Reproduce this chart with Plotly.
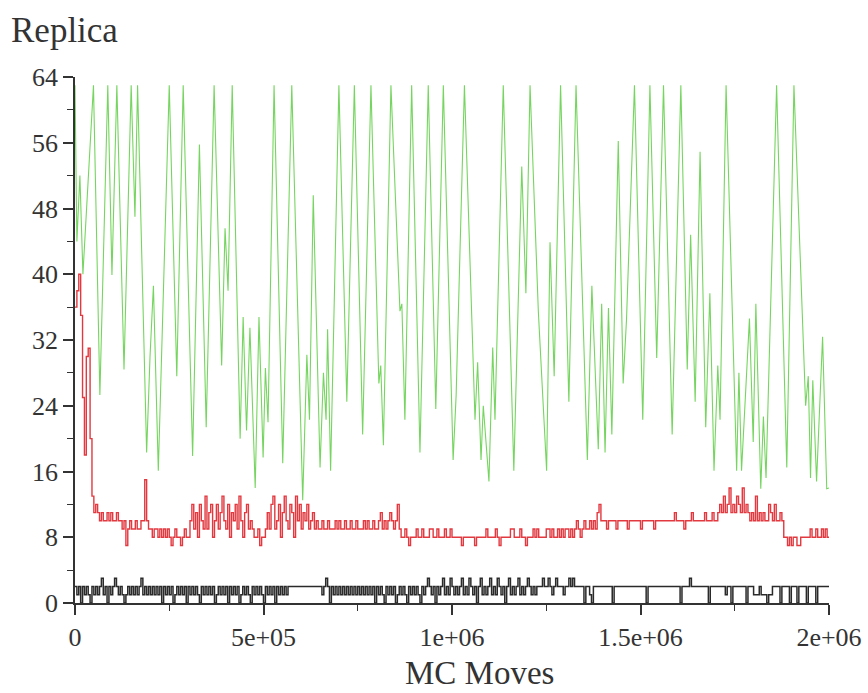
import plotly.graph_objects as go

# ---------------- data ----------------
# green replica walk: turning points, x in thousands of MC moves
green_x_k = [0, 5, 13, 21, 49, 66, 87, 98, 111, 130, 149, 159, 166, 190, 199, 208, 221,
             250, 270, 287, 312, 330, 348, 369, 389, 398, 406, 417, 438, 446, 455, 464,
             478, 488, 499, 505, 512, 528, 551, 575, 604, 615, 622, 632, 650, 659, 666,
             670, 678, 700, 721, 741, 763, 785, 806, 811, 818, 838, 862, 867, 875, 893,
             915, 937, 957, 977, 1003, 1011, 1033, 1061, 1068, 1077, 1083, 1098, 1108,
             1114, 1136, 1164, 1185, 1196, 1207, 1229, 1251, 1260, 1271, 1288, 1310,
             1329, 1359, 1371, 1388, 1397, 1406, 1415, 1424, 1441, 1454, 1463, 1484,
             1506, 1525, 1543, 1561, 1584, 1607, 1624, 1633, 1645, 1658, 1673, 1684,
             1695, 1705, 1711, 1727, 1755, 1761, 1768, 1789, 1799, 1806, 1819, 1826,
             1833, 1861, 1888, 1907, 1938, 1945, 1951, 1957, 1967, 1983, 1994, 2000]
green_y = [63, 44, 52, 40, 63, 25.3, 63, 39.9, 63, 28.4, 63, 47, 63, 18.3, 30, 38.6, 16.1,
           63, 27.6, 63, 17.9, 55.8, 21.4, 63, 28.9, 45.6, 38, 63, 20, 34.8, 21, 33.5,
           14, 34.8, 17.7, 28.6, 22, 63, 17, 63, 12.5, 30.2, 22.3, 49.6, 16.5, 28, 22.3,
           33.3, 16.1, 63, 24.5, 63, 20.5, 63, 26.7, 28.9, 19.2, 63, 35.5, 36.4, 22.3, 63,
           18.3, 63, 23.6, 63, 17.4, 25.3, 63, 22.3, 29.3, 17.4, 24, 14.8, 31.1,
           22.3, 63, 16.1, 53.1, 37.7, 63, 35.5, 16.1, 43.9, 27.6, 63, 24.5,
           63, 17.4, 38.6, 18.7, 36.4, 18.3, 35.9, 20.5, 56.2, 26.7, 34.6, 63,
           22.3, 63, 29.8, 63, 20.5, 63, 28.4, 44.8, 24.5, 54.9, 21.4, 37.7,
           16.1, 28.9, 22.3, 63, 16.1, 28, 16.1, 34.6, 19.6, 36.4, 13.9, 22.7,
           15.2, 63, 16.5, 63, 24, 27.6, 15.2, 27.1, 14.8, 32.4, 13.9, 14]

# red and black replica walks, sampled every 5000 MC moves
sample_step = 5000
red_y = [36, 38, 40, 35, 25, 18, 30, 31, 20, 13,
         11, 12, 11,
         10, 11, 10, 10, 11, 10, 11, 10, 10, 11, 10,
         10, 9, 10, 7, 9, 10, 9, 9, 10, 9, 9, 10,
         10, 15,
         10, 9, 9, 8, 9, 9, 8, 9, 8, 9, 8, 9, 8, 7,
         8, 9, 8, 8, 7, 8, 9, 8, 8,
         10, 12, 9, 11, 8, 12, 10, 9, 13, 9, 11, 12, 8, 10, 12, 9, 11, 13, 10, 9,
         12, 8, 11, 10, 12, 9, 13, 10, 8, 11, 12, 9, 10,
         9, 8, 8, 9, 7, 8, 8, 9,
         11, 9, 12, 13, 9, 10, 12, 8, 11, 13, 10, 9, 12, 11, 8, 13, 10, 12, 9, 11,
         10, 12, 9, 10, 11, 9,
         10, 9, 9, 10, 9, 9, 10, 9, 9, 9, 10, 9, 10, 9, 9, 10, 9, 9, 10, 9,
         9, 10, 9, 9, 9, 10, 9, 10, 9, 9, 10, 9, 9, 10, 11, 9, 10, 9, 10, 11, 10,
         9, 10, 12,
         9, 8, 8, 9, 8, 7, 8,
         8, 8, 9, 8, 8, 9, 8, 8, 8, 9, 9, 8, 8, 9, 8, 8, 8, 9, 8, 8, 9, 8, 8, 8, 8,
         8, 7, 8, 8, 8, 8, 8, 8, 7, 8, 8, 8,
         8, 8, 9, 8, 8, 8, 8, 9, 8, 7, 8, 8, 8, 8, 8, 9, 9, 8, 8, 8, 9, 8, 8, 7, 8,
         8, 8, 9, 8, 9, 8, 8, 8, 8, 9, 9, 8, 9, 8, 8, 9, 8, 9, 8, 9, 9, 8, 9, 8, 9,
         10, 9, 8, 9, 10, 9, 9, 10, 9, 10, 9,
         11, 12, 10,
         10, 10, 9, 10, 10, 10, 10, 9, 10, 10, 10, 10, 10, 9, 10, 10, 10, 10, 10, 10,
         9, 10, 10, 10, 10, 10, 10, 9, 10, 10, 10, 10, 10, 10, 10, 10, 10, 10, 11, 10,
         10, 10, 10, 9, 10, 10, 10, 11, 10, 10, 10, 10, 10, 10, 11, 10, 10, 10, 11, 10,
         10,
         11, 12, 11, 13, 11, 12, 14, 11, 12, 11, 13, 12, 11, 14, 11, 12, 11,
         10, 11, 10, 13, 10, 11, 10, 11, 10,
         10, 12, 11, 10, 12, 10, 10, 11, 10,
         8, 8, 7, 8, 7, 8, 8, 7, 7, 8, 8, 8, 8,
         8, 9, 8, 8, 9, 8, 8, 9, 8, 9, 8, 8]

black_y = [2, 1, 2, 0, 2, 1, 2, 1, 0, 2, 1, 2, 1, 2, 3, 1, 2, 0, 2, 1,
           2, 3, 2, 1, 2, 1, 0, 1, 2, 1, 2, 1, 2, 1, 2, 3, 1, 2, 1, 2, 1,
           2, 1, 2, 1, 2, 0, 2, 1, 2, 1, 2, 0, 1, 2, 1, 2, 1, 2, 0, 2,
           1, 2, 1, 2, 1, 0, 2, 1, 2, 1, 2, 1, 2, 0, 1, 2,
           1, 2, 1, 2, 0, 2, 1, 2, 1, 2, 0, 1, 2, 1, 2, 1, 0, 2, 1, 2,
           1, 2, 1, 0, 2, 1, 2, 1, 2, 0, 2, 1, 2, 1, 2, 1, 2,
           2, 2, 2, 2, 2, 2, 2, 2, 2, 2, 2, 2, 2, 2, 2, 2, 2, 1, 2, 3, 2, 0, 2,
           1, 2, 1, 2, 1, 2, 1, 2, 1, 2, 1, 2, 1, 2, 1, 2, 1, 2, 1, 2,
           1, 2, 0, 2, 1, 2, 1, 0, 2, 1, 2, 1, 2, 0, 1, 2, 1, 2, 1, 0,
           2, 1, 2, 1, 2, 1, 0, 2, 1, 2, 3, 2, 1, 2, 0, 2, 1, 2, 3, 1,
           2, 1, 3, 2, 1, 2, 1,
           2, 3, 1, 2, 1, 3, 2, 1, 2, 0, 2, 3, 1, 2, 1, 2, 3, 1, 2, 1,
           3, 2, 1, 2, 0, 2, 3, 1, 2, 1, 2, 3, 1, 2, 1, 2, 3, 2, 1, 2, 1, 2, 2,
           2, 3, 2, 2, 3, 2, 1, 2, 3, 2, 2, 2, 1, 2, 2, 3, 2, 3, 2, 2, 2,
           2, 2, 0, 2, 2, 1, 0, 2, 2, 2, 2,
           2, 2, 2, 2, 2, 2, 0, 2, 2, 2, 2, 2, 2, 2, 2, 2, 2, 2, 2, 2,
           2, 2, 2, 2, 0, 2, 2, 2, 2, 2, 2, 2, 2, 2, 2, 2, 2, 2, 2, 2,
           2, 2, 0, 2, 2, 2, 2, 3, 2, 2, 2, 2, 2, 2, 2, 2, 2, 0, 2, 2, 2, 2, 2,
           2, 2, 2, 1, 2, 2, 0, 2, 2, 2, 2, 2, 2, 2, 0, 2, 2, 2, 1, 1,
           1, 2, 1, 1, 1, 0, 1, 1, 2, 2, 2, 2, 0, 2, 2, 2, 2, 0, 2, 2,
           2, 0, 2, 2, 2, 2, 0, 2, 2, 2, 2, 0, 2, 2, 2, 2, 2, 2, 2]

x_tickvals = [0, 500000, 1000000, 1500000, 2000000]
x_ticktext = ["0", "5e+05", "1e+06", "1.5e+06", "2e+06"]
y_tickvals = [0, 8, 16, 24, 32, 40, 48, 56, 64]

# ---------------- figure ----------------
green_x = [v * 1000 for v in green_x_k]
red_x = [i * sample_step for i in range(len(red_y))]
black_x = [i * sample_step for i in range(len(black_y))]

fig = go.Figure()
fig.add_trace(go.Scatter(x=green_x, y=green_y, mode="lines",
                         line=dict(color="#76d560", width=1.1), showlegend=False))
fig.add_trace(go.Scatter(x=red_x, y=red_y, mode="lines", line_shape="hv",
                         line=dict(color="#e2383f", width=1.4), showlegend=False))
fig.add_trace(go.Scatter(x=black_x, y=black_y, mode="lines", line_shape="hv",
                         line=dict(color="#2a2a2a", width=1.5), showlegend=False))

font_family = "Liberation Serif, Times New Roman, serif"
axis_common = dict(showgrid=False, zeroline=False, showline=True, linecolor="#333333",
                   linewidth=1.5, ticks="outside", ticklen=10, tickwidth=1.5,
                   tickcolor="#333333", automargin=False,
                   tickfont=dict(size=26, family=font_family, color="#333333"))
fig.update_layout(
    width=868, height=693,
    margin=dict(l=75, r=39, t=77, b=90),
    paper_bgcolor="white", plot_bgcolor="white",
    font=dict(family=font_family, color="#333333", size=26),
    xaxis=dict(range=[0, 2000000], tickvals=x_tickvals, ticktext=x_ticktext,
               minor=dict(dtick=250000, tick0=0, ticks="outside", ticklen=6,
                          tickwidth=1.2, tickcolor="#333333", showgrid=False),
               **axis_common),
    yaxis=dict(range=[0, 64], tickvals=y_tickvals,
               minor=dict(dtick=4, tick0=0, ticks="outside", ticklen=6,
                          tickwidth=1.2, tickcolor="#333333", showgrid=False),
               **axis_common),
    annotations=[
        dict(text="Replica", xref="paper", yref="paper", x=-0.088, y=1.089,
             xanchor="left", yanchor="middle", showarrow=False,
             font=dict(size=35, family=font_family, color="#333333")),
        dict(text="MC Moves", xref="paper", yref="paper", x=0.537, y=-0.134,
             xanchor="center", yanchor="middle", showarrow=False,
             font=dict(size=33, family=font_family, color="#333333")),
    ],
)

# the page body keeps no default margin so the figure fills the window exactly
fig.write_html("out.html", config={"displayModeBar": False},
               post_script="document.body.style.margin='0px';")
